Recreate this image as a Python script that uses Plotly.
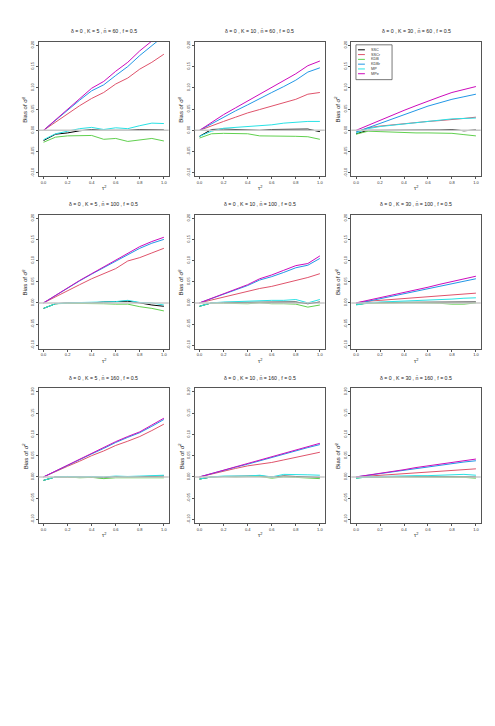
import plotly.graph_objects as go

# tau^2 grid shared by all panels
tau2 = [0.0, 0.1, 0.2, 0.3, 0.4, 0.5, 0.6, 0.7, 0.8, 0.9, 1.0]

estimators = ["SSC", "SSCr", "KDB", "KDBr", "MP", "MPe"]
colors = ["#000000", "#DF536B", "#61D04F", "#2297E6", "#28E2E5", "#CD0BBC"]

# bias values, one dict per panel
k5_n60 = {
    "SSC": [-0.024, -0.009, -0.006, -0.001, 0.002, 0.0, 0.0, 0.0, 0.002, 0.002, 0.001],
    "SSCr": [0.0, 0.020, 0.040, 0.058, 0.075, 0.089, 0.109, 0.123, 0.144, 0.160, 0.179],
    "KDB": [-0.028, -0.016, -0.013, -0.012, -0.012, -0.021, -0.019, -0.026, -0.023, -0.019, -0.025],
    "KDBr": [0.0, 0.024, 0.048, 0.071, 0.093, 0.107, 0.129, 0.150, 0.176, 0.200, 0.222],
    "MP": [-0.022, -0.008, -0.002, 0.004, 0.007, 0.002, 0.006, 0.004, 0.011, 0.017, 0.016],
    "MPe": [0.0, 0.025, 0.050, 0.075, 0.099, 0.115, 0.139, 0.160, 0.187, 0.210, 0.235],
}
k10_n60 = {
    "SSC": [-0.014, 0.002, 0.003, 0.002, 0.0, 0.0, 0.002, 0.002, 0.002, 0.003, -0.003],
    "SSCr": [0.0, 0.011, 0.021, 0.031, 0.041, 0.049, 0.057, 0.065, 0.073, 0.085, 0.089],
    "KDB": [-0.018, -0.008, -0.007, -0.007, -0.008, -0.013, -0.013, -0.013, -0.014, -0.015, -0.021],
    "KDBr": [0.0, 0.016, 0.031, 0.046, 0.060, 0.075, 0.089, 0.103, 0.118, 0.137, 0.147],
    "MP": [-0.014, -0.002, 0.005, 0.007, 0.009, 0.011, 0.013, 0.017, 0.019, 0.021, 0.021],
    "MPe": [0.0, 0.019, 0.037, 0.053, 0.069, 0.084, 0.099, 0.116, 0.133, 0.152, 0.163],
}
k30_n60 = {
    "SSC": [-0.008, 0.0, 0.0, 0.0, 0.0, 0.001, 0.001, 0.001, 0.002, -0.001, 0.001],
    "SSCr": [-0.004, 0.006, 0.010, 0.013, 0.016, 0.019, 0.021, 0.023, 0.025, 0.028, 0.031],
    "KDB": [-0.009, -0.002, -0.003, -0.004, -0.006, -0.006, -0.006, -0.007, -0.007, -0.010, -0.013],
    "KDBr": [-0.004, 0.006, 0.016, 0.027, 0.037, 0.047, 0.057, 0.065, 0.073, 0.079, 0.085],
    "MP": [-0.006, 0.004, 0.009, 0.012, 0.015, 0.018, 0.020, 0.024, 0.027, 0.028, 0.029],
    "MPe": [0.0, 0.012, 0.023, 0.035, 0.047, 0.058, 0.069, 0.079, 0.089, 0.096, 0.103],
}
k5_n100 = {
    "SSC": [-0.013, -0.002, 0.0, 0.0, 0.0, 0.002, 0.003, 0.004, 0.0, -0.005, -0.008],
    "SSCr": [0.0, 0.015, 0.029, 0.043, 0.057, 0.069, 0.081, 0.099, 0.107, 0.118, 0.129],
    "KDB": [-0.013, -0.002, -0.001, -0.001, -0.002, -0.002, -0.003, -0.003, -0.009, -0.013, -0.019],
    "KDBr": [0.0, 0.018, 0.035, 0.052, 0.068, 0.083, 0.099, 0.114, 0.129, 0.141, 0.150],
    "MP": [-0.013, -0.002, 0.0, 0.001, 0.001, 0.003, 0.003, 0.006, 0.001, 0.0, -0.005],
    "MPe": [0.0, 0.018, 0.036, 0.053, 0.069, 0.085, 0.101, 0.117, 0.133, 0.145, 0.155],
}
k10_n100 = {
    "SSC": [-0.008, 0.0, 0.001, 0.001, 0.002, 0.002, 0.002, 0.002, 0.002, -0.002, 0.002],
    "SSCr": [0.0, 0.007, 0.014, 0.021, 0.028, 0.034, 0.039, 0.046, 0.053, 0.060, 0.069],
    "KDB": [-0.008, 0.0, -0.001, -0.001, -0.002, 0.0, -0.002, -0.002, -0.003, -0.010, -0.005],
    "KDBr": [0.0, 0.010, 0.021, 0.031, 0.041, 0.054, 0.062, 0.072, 0.083, 0.089, 0.105],
    "MP": [-0.008, 0.0, 0.002, 0.003, 0.004, 0.006, 0.006, 0.006, 0.008, 0.0, 0.008],
    "MPe": [0.0, 0.011, 0.022, 0.033, 0.043, 0.057, 0.066, 0.077, 0.088, 0.093, 0.111],
}
k30_n100 = {
    "SSC": [-0.004, 0.0, 0.001, 0.001, 0.001, 0.002, 0.002, 0.002, 0.002, 0.002, 0.002],
    "SSCr": [0.0, 0.004, 0.006, 0.008, 0.010, 0.012, 0.014, 0.017, 0.019, 0.021, 0.023],
    "KDB": [-0.004, -0.001, -0.001, 0.0, 0.0, 0.0, 0.0, -0.001, -0.003, -0.003, 0.0],
    "KDBr": [-0.002, 0.004, 0.010, 0.016, 0.022, 0.028, 0.033, 0.039, 0.045, 0.051, 0.057],
    "MP": [-0.005, 0.0, 0.002, 0.003, 0.004, 0.005, 0.006, 0.008, 0.009, 0.011, 0.012],
    "MPe": [0.0, 0.006, 0.012, 0.019, 0.025, 0.031, 0.037, 0.044, 0.050, 0.057, 0.063],
}
k5_n160 = {
    "SSC": [-0.008, 0.0, 0.0, 0.0, -0.001, -0.002, 0.001, 0.0, 0.001, 0.001, 0.002],
    "SSCr": [0.0, 0.013, 0.025, 0.037, 0.050, 0.061, 0.074, 0.084, 0.095, 0.109, 0.124],
    "KDB": [-0.008, 0.0, 0.0, -0.002, -0.001, -0.004, -0.002, -0.002, -0.001, -0.001, -0.002],
    "KDBr": [0.0, 0.014, 0.027, 0.041, 0.054, 0.067, 0.081, 0.093, 0.104, 0.119, 0.135],
    "MP": [-0.008, 0.0, 0.001, 0.0, 0.001, 0.0, 0.002, 0.001, 0.002, 0.003, 0.004],
    "MPe": [0.0, 0.014, 0.028, 0.042, 0.055, 0.068, 0.083, 0.095, 0.106, 0.122, 0.138],
}
k10_n160 = {
    "SSC": [-0.005, 0.0, 0.001, 0.001, 0.001, 0.002, 0.0, 0.002, 0.001, 0.0, -0.001],
    "SSCr": [0.0, 0.007, 0.014, 0.020, 0.026, 0.030, 0.034, 0.040, 0.046, 0.052, 0.058],
    "KDB": [-0.005, 0.0, 0.001, 0.0, 0.001, 0.001, -0.003, 0.0, -0.001, -0.002, -0.004],
    "KDBr": [0.0, 0.008, 0.015, 0.023, 0.030, 0.038, 0.045, 0.054, 0.062, 0.069, 0.076],
    "MP": [-0.005, 0.0, 0.002, 0.002, 0.002, 0.004, 0.0, 0.006, 0.006, 0.005, 0.004],
    "MPe": [0.0, 0.008, 0.016, 0.024, 0.031, 0.040, 0.047, 0.056, 0.064, 0.072, 0.079],
}
k30_n160 = {
    "SSC": [-0.002, 0.0, 0.0, 0.001, 0.001, 0.001, 0.001, 0.001, 0.001, 0.001, 0.0],
    "SSCr": [0.0, 0.002, 0.004, 0.006, 0.008, 0.010, 0.011, 0.013, 0.015, 0.017, 0.019],
    "KDB": [-0.003, 0.0, 0.0, 0.0, 0.0, 0.0, 0.0, 0.0, 0.0, -0.001, -0.003],
    "KDBr": [0.0, 0.004, 0.008, 0.012, 0.016, 0.020, 0.024, 0.028, 0.031, 0.035, 0.038],
    "MP": [-0.003, 0.0, 0.001, 0.002, 0.002, 0.003, 0.003, 0.004, 0.005, 0.006, 0.004],
    "MPe": [0.0, 0.004, 0.008, 0.013, 0.017, 0.022, 0.026, 0.030, 0.034, 0.039, 0.042],
}

panels = [
    (5, 60, k5_n60), (10, 60, k10_n60), (30, 60, k30_n60),
    (5, 100, k5_n100), (10, 100, k10_n100), (30, 100, k30_n100),
    (5, 160, k5_n160), (10, 160, k10_n160), (30, 160, k30_n160),
]

W, H = 495, 726
col_px = [(30.7, 160.7), (186.7, 316.7), (343.3, 472.7)]
row_px = [(32, 167), (205.7, 340), (380, 515)]

font = "Liberation Sans, Arial, sans-serif"
fig = go.Figure()
annotations = []
shapes = []

for i, (k, n, data) in enumerate(panels):
    r, c = divmod(i, 3)
    ax = "" if i == 0 else str(i + 1)
    x0, x1 = col_px[c]
    y0, y1 = row_px[r]
    for name, col in zip(estimators, colors):
        fig.add_trace(go.Scatter(
            x=tau2, y=data[name], mode="lines", name=name,
            line=dict(color=col, width=1), showlegend=False,
            xaxis="x" + ax, yaxis="y" + ax, cliponaxis=True,
        ))
    axis_common = dict(
        showline=True, mirror=True, linecolor="#555555", linewidth=1,
        showgrid=False, zeroline=False, ticks="outside", ticklen=2,
        tickcolor="#555555", tickwidth=0.8,
        tickfont=dict(size=4, family=font, color="#333333"),
    )
    fig.update_layout({
        "xaxis" + ax: dict(
            domain=[x0 / W, x1 / W], range=[-0.04, 1.04], anchor="y" + ax,
            tickvals=[0, 0.2, 0.4, 0.6, 0.8, 1.0],
            ticktext=["0.0", "0.2", "0.4", "0.6", "0.8", "1.0"], **axis_common),
        "yaxis" + ax: dict(
            domain=[1 - y1 / H, 1 - y0 / H], range=[-0.108, 0.208], anchor="x" + ax,
            tickvals=[-0.10, -0.05, 0.0, 0.05, 0.10, 0.15, 0.20],
            ticktext=["-0.10", "-0.05", "0.00", "0.05", "0.10", "0.15", "0.20"],
            tickangle=-90, **axis_common),
    })
    # horizontal reference at zero
    shapes.append(dict(type="line", xref="x" + ax + " domain", yref="y" + ax,
                       x0=0, x1=1, y0=0, y1=0, layer="above",
                       line=dict(color="#C8C8C8", width=1.5)))
    xc = (x0 + x1) / 2 / W
    annotations.append(dict(
        text=f"δ = 0 , K = {k} , n\u0304 = {n} , f = 0.5", x=xc, y=1 - (y0 - 10.5) / H,
        xref="paper", yref="paper", showarrow=False, xanchor="center", yanchor="middle",
        font=dict(size=5.2, family=font, color="#222222")))
    annotations.append(dict(
        text="τ<sup>2</sup>", x=xc, y=1 - (y1 + 12) / H,
        xref="paper", yref="paper", showarrow=False, xanchor="center", yanchor="middle",
        font=dict(size=5.5, family=font, color="#222222")))
    annotations.append(dict(
        text="Bias of σ\u0302<sup>2</sup>", x=(x0 - 14) / W, y=1 - (y0 + y1) / 2 / H,
        xref="paper", yref="paper", showarrow=False, textangle=-90,
        xanchor="center", yanchor="middle",
        font=dict(size=6, family=font, color="#222222")))

# legend box in the top-right panel
lx = "x3 domain"
ly = "y3 domain"
shapes.append(dict(type="rect", xref=lx, yref=ly, x0=0.036, x1=0.315, y0=0.719, y1=0.978,
                   line=dict(color="#555555", width=0.8), fillcolor="white"))
for j, (name, col) in enumerate(zip(estimators, colors)):
    yy = 0.941 - j * 0.0356
    shapes.append(dict(type="line", xref=lx, yref=ly, x0=0.052, x1=0.105, y0=yy, y1=yy,
                       line=dict(color=col, width=1)))
    annotations.append(dict(text=name, xref=lx, yref=ly, x=0.14, y=yy, xanchor="left",
                            yanchor="middle", showarrow=False,
                            font=dict(size=3.8, family=font, color="#333333")))

fig.update_layout(
    width=W, height=H, margin=dict(l=0, r=0, t=0, b=0),
    paper_bgcolor="white", plot_bgcolor="white",
    annotations=annotations, shapes=shapes, showlegend=False,
)

fig.write_html("out.html")
